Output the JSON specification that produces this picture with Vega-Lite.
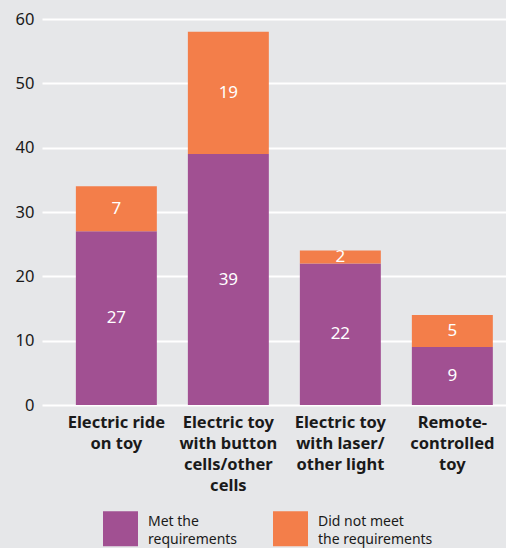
{
  "$schema": "https://vega.github.io/schema/vega-lite/v6.json",
  "width": 464,
  "height": 386,
  "autosize": {"type": "none"},
  "padding": {"left": 42, "top": 19, "right": 0, "bottom": 143},
  "background": "#e6e7e9",
  "config": {
    "view": {"stroke": null},
    "font": "Noto Sans"
  },
  "data": {
    "values": [
      {"toy": "Electric ride|on toy", "status": "Met the requirements", "count": 27, "order": 1},
      {"toy": "Electric ride|on toy", "status": "Did not meet the requirements", "count": 7, "order": 2},
      {"toy": "Electric toy|with button|cells/other|cells", "status": "Met the requirements", "count": 39, "order": 1},
      {"toy": "Electric toy|with button|cells/other|cells", "status": "Did not meet the requirements", "count": 19, "order": 2},
      {"toy": "Electric toy|with laser/|other light", "status": "Met the requirements", "count": 22, "order": 1},
      {"toy": "Electric toy|with laser/|other light", "status": "Did not meet the requirements", "count": 2, "order": 2},
      {"toy": "Remote-|controlled|toy", "status": "Met the requirements", "count": 9, "order": 1},
      {"toy": "Remote-|controlled|toy", "status": "Did not meet the requirements", "count": 5, "order": 2}
    ]
  },
  "encoding": {
    "x": {
      "field": "toy",
      "type": "nominal",
      "sort": null,
      "scale": {"paddingInner": 0.277, "paddingOuter": 0.21, "align": 0.72},
      "axis": {
        "title": null,
        "labelAngle": 0,
        "domain": false,
        "ticks": false,
        "labelExpr": "split(datum.value, '|')",
        "labelFont": "Noto Sans",
        "labelFontWeight": "bold",
        "labelFontSize": 16.5,
        "labelLineHeight": 21,
        "labelColor": "#1a1a1a",
        "labelPadding": 9,
        "labelLimit": 200
      }
    }
  },
  "layer": [
    {
      "mark": {"type": "bar"},
      "encoding": {
        "y": {
          "field": "count",
          "type": "quantitative",
          "stack": "zero",
          "scale": {"domain": [0, 60]},
          "axis": {
            "title": null,
            "values": [0, 10, 20, 30, 40, 50, 60],
            "domain": false,
            "ticks": false,
            "grid": true,
            "gridColor": "#ffffff",
            "gridWidth": 2,
            "gridOpacity": 1,
            "labelFontSize": 16.5,
            "labelColor": "#1a1a1a",
            "labelPadding": 8
          }
        },
        "order": {"field": "order", "type": "quantitative"},
        "color": {
          "field": "status",
          "type": "nominal",
          "sort": ["Met the requirements", "Did not meet the requirements"],
          "scale": {"domain": ["Met the requirements", "Did not meet the requirements"], "range": ["#a15092", "#f37e4a"]},
          "legend": {
            "title": null,
            "orient": "none",
            "legendX": 61,
            "legendY": 492,
            "direction": "horizontal",
            "symbolType": "square",
            "symbolSize": 1225,
            "symbolStrokeWidth": 0,
            "symbolOpacity": 1,
            "labelExpr": "datum.value == 'Met the requirements' ? ['Met the', 'requirements'] : ['Did not meet', 'the requirements']",
            "labelFontSize": 14,
            "labelColor": "#1a1a1a",
            "labelOffset": 10,
            "labelLimit": 200,
            "labelBaseline": "middle",
            "columnPadding": 35,
            "encode": {
              "labels": {"update": {"lineHeight": {"value": 18}, "dy": {"value": -7}}}
            }
          }
        }
      }
    },
    {
      "mark": {"type": "text", "color": "#ffffff", "fontSize": 17, "baseline": "middle"},
      "encoding": {
        "y": {"field": "count", "type": "quantitative", "stack": "zero", "bandPosition": 0.5},
        "order": {"field": "order", "type": "quantitative"},
        "detail": {"field": "status"},
        "text": {"field": "count", "type": "quantitative"}
      }
    }
  ]
}
